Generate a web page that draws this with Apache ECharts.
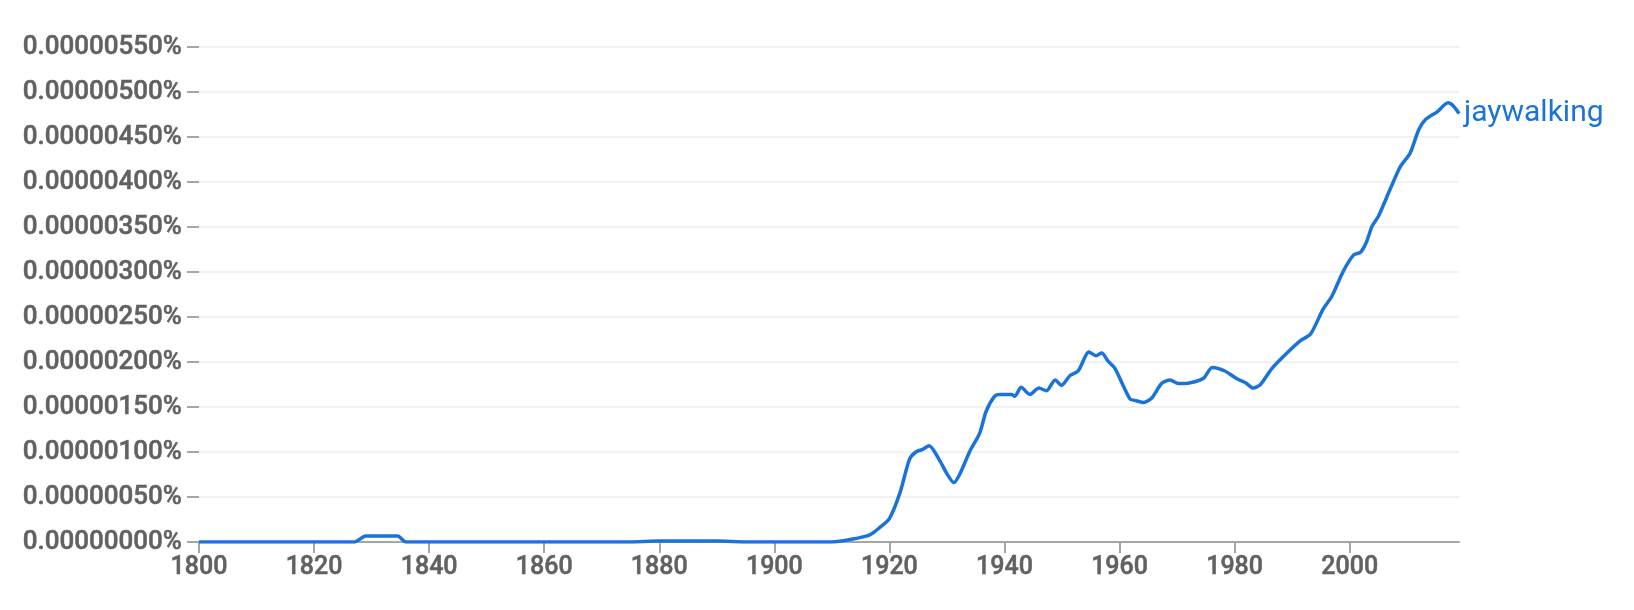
<!DOCTYPE html>
<html>
<head>
<meta charset="utf-8">
<script src="https://cdn.jsdelivr.net/npm/echarts@6/dist/echarts.min.js"></script>
<style>
html,body{margin:0;padding:0;background:#fff;}
#c{width:1634px;height:610px;}
</style>
</head>
<body>
<div id="c"></div>
<script>
const seriesName = 'jaywalking';
const years = [1800,1827,1829,1834.5,1836,1875,1880,1890,1895,1910,1913.4,1916.6,1918.3,1920,1921.8,1923.5,1924.6,1925.8,1926.9,1928.7,1929.9,1931.2,1932.2,1934,1935.7,1936.8,1938.3,1939.2,1941.2,1941.8,1942.9,1944.4,1946,1947.3,1948.8,1949.9,1951.4,1952.8,1954.7,1955.9,1956.9,1958,1959.2,1961.8,1962.9,1964.2,1965.6,1967.3,1968.8,1970.2,1972.3,1974.6,1976.1,1978.3,1980.5,1981.9,1983.2,1984.5,1986.5,1989.1,1991.5,1993.2,1995.4,1996.9,1998.9,2000.7,2001.9,2002.9,2003.9,2005,2007.1,2008.8,2010.5,2012,2013.1,2015.2,2017.1,2018.1,2019];
const values = [0,0,0.000000067,0.000000067,0,0,0.00000001,0.00000001,0,0,0.00000003,0.00000008,0.00000016,0.00000026,0.00000054,0.00000092,0.00000100,0.00000103,0.00000107,0.00000091,0.00000077,0.00000066,0.00000075,0.00000101,0.00000121,0.00000145,0.00000162,0.00000164,0.00000164,0.00000162,0.00000172,0.00000164,0.00000171,0.00000168,0.00000180,0.00000174,0.00000185,0.00000190,0.00000211,0.00000207,0.00000210,0.00000201,0.00000193,0.00000159,0.00000157,0.00000155,0.00000160,0.00000176,0.00000180,0.00000176,0.00000177,0.00000182,0.00000194,0.00000190,0.00000181,0.00000177,0.00000171,0.00000175,0.00000193,0.00000210,0.00000224,0.00000231,0.00000259,0.00000273,0.00000301,0.00000319,0.00000322,0.00000333,0.00000351,0.00000362,0.00000393,0.00000417,0.00000432,0.00000458,0.00000469,0.00000478,0.00000488,0.00000484,0.00000476];
const xTicks = [1800,1820,1840,1860,1880,1900,1920,1940,1960,1980,2000];
const yMin = 0, yMax = 0.0000055, yStep = 0.0000005;

const blue = '#1a73d9';
const labelGray = '#616161';
const axisGray = '#a6a6a6';
const font = 'Roboto';

const chart = echarts.init(document.getElementById('c'), null, {renderer:'canvas'});
chart.setOption({
  animation: false,
  backgroundColor: '#fff',
  grid: {left: 199, right: 175, top: 47, bottom: 68, containLabel: false},
  xAxis: {
    type: 'value', min: 1800, max: 2019, interval: 20,
    axisLine: {show: true, lineStyle: {color: axisGray, width: 2}},
    axisTick: {show: true, length: 11, customValues: xTicks, lineStyle: {color: axisGray, width: 2}},
    axisLabel: {customValues: xTicks, margin: 13, color: labelGray, fontFamily: font, fontWeight: 500, fontSize: 25,
      textBorderColor: labelGray, textBorderWidth: 0.5, formatter: v => String(v)},
    splitLine: {show: false}
  },
  yAxis: {
    type: 'value', min: yMin, max: yMax, interval: yStep,
    axisLine: {show: false},
    axisTick: {show: true, length: 12, lineStyle: {color: axisGray, width: 2}},
    axisLabel: {margin: 17, color: labelGray, fontFamily: font, fontWeight: 500, fontSize: 26,
      textBorderColor: labelGray, textBorderWidth: 0.5,
      formatter: v => v.toFixed(8) + '%'},
    splitLine: {show: true, lineStyle: {color: '#f1f1f1', width: 2}}
  },
  series: [{
    name: seriesName,
    type: 'line',
    data: years.map((y, i) => [y, values[i]]),
    smooth: 0.25,
    showSymbol: false,
    lineStyle: {color: blue, width: 3.5},
    itemStyle: {color: blue},
    endLabel: {show: true, formatter: seriesName, color: blue, fontFamily: font, fontSize: 30, distance: 5}
  }]
});
</script>
</body>
</html>
